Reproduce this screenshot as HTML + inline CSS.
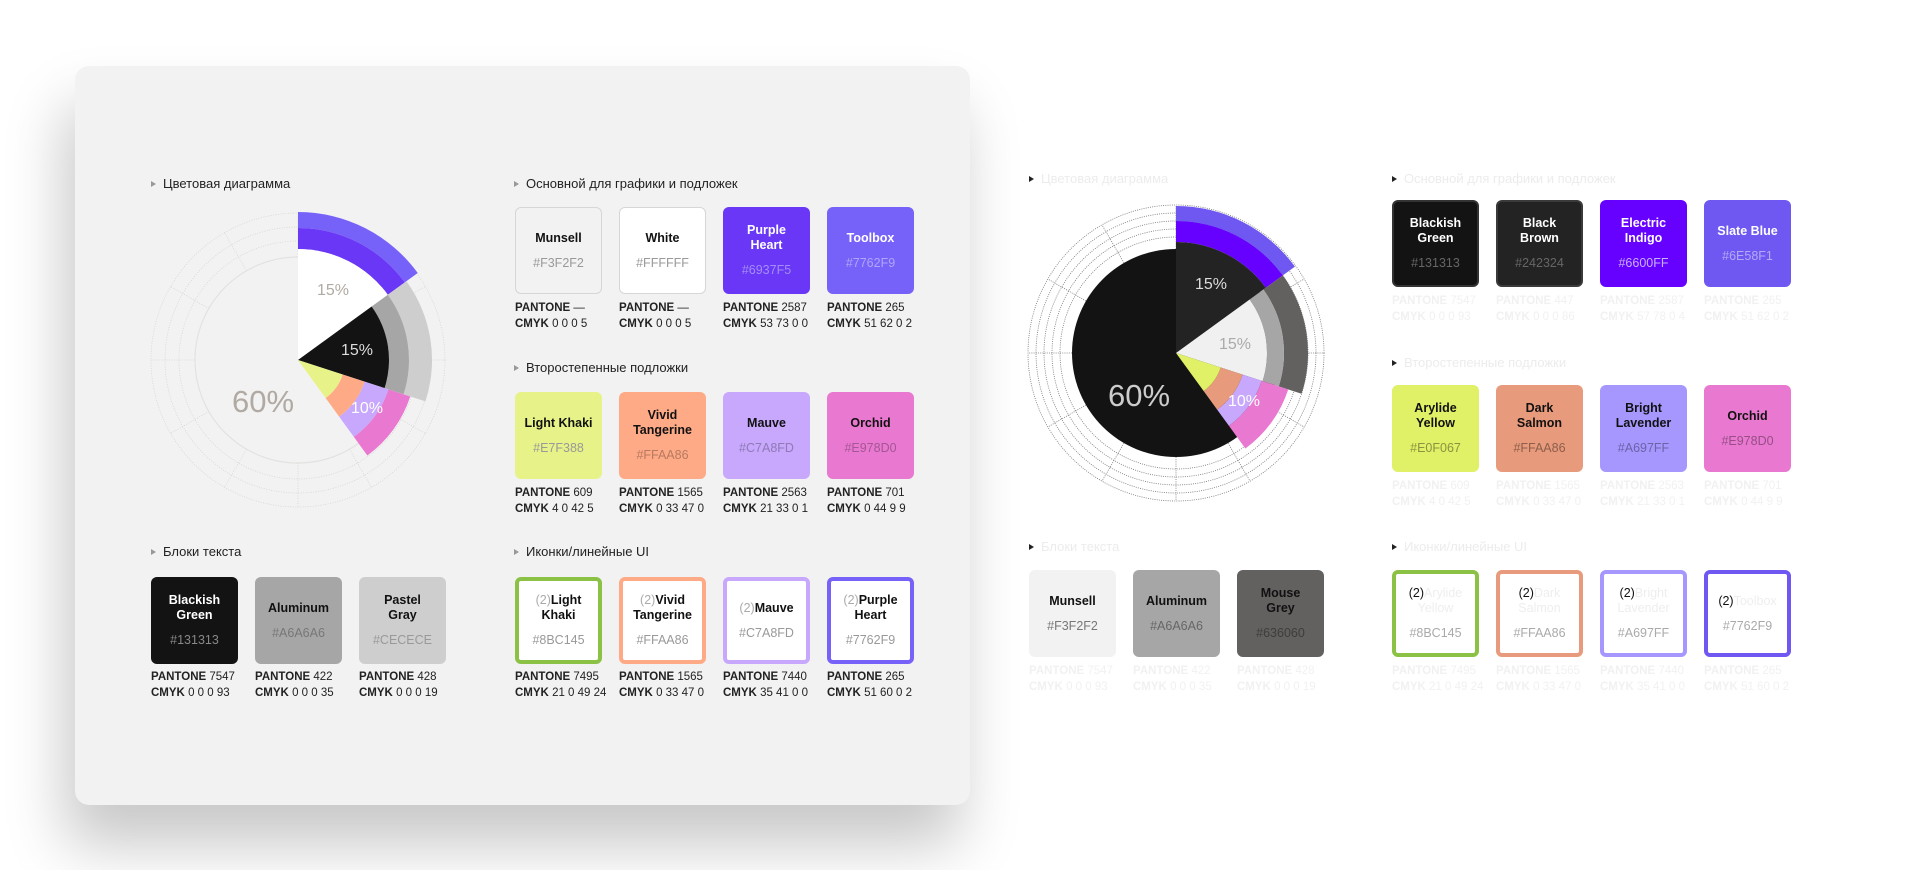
<!DOCTYPE html>
<html><head><meta charset="utf-8"><style>
*{margin:0;padding:0;box-sizing:border-box}
body{width:1920px;height:870px;background:#fff;position:relative;overflow:hidden;font-family:"Liberation Sans","Noto Sans CJK SC",sans-serif}
.card{position:absolute;left:75px;top:66px;width:895px;height:739px;background:#f2f2f2;border-radius:14px;box-shadow:-10px 40px 60px rgba(0,0,0,.22)}
.h{position:absolute;font-size:13px;color:#222;white-space:nowrap;line-height:16px}
.h:before{content:"";display:inline-block;width:0;height:0;border-left:5px solid #999;border-top:3.5px solid transparent;border-bottom:3.5px solid transparent;margin-right:7px;vertical-align:1px}
.r .h{color:#ececec}.r .h:before{border-left-color:#222}
.sw{position:absolute;width:87px;height:87px;border-radius:6px;display:flex;flex-direction:column;align-items:center;justify-content:center;text-align:center;font-size:12.5px;line-height:15px}
.sw b{font-weight:bold;display:block}
.sw i{font-style:normal;display:block;margin-top:10px;font-size:12.5px}
.pt{position:absolute;font-size:11.5px;line-height:16px;color:#222;white-space:nowrap}
.pt b{font-weight:bold}
.r .pt{color:#f1f1f1}
.ic{border:4px solid}
</style></head><body>
<div class="card"></div>
<svg width="1920" height="870" style="position:absolute;left:0;top:0" id="s"></svg>
<div id="L">
<div class="h" style="left:151px;top:176px">Цветовая диаграмма</div>
<div class="h" style="left:514px;top:176px">Основной для графики и подложек</div>
<div class="h" style="left:514px;top:360px">Второстепенные подложки</div>
<div class="h" style="left:151px;top:544px">Блоки текста</div>
<div class="h" style="left:514px;top:544px">Иконки/линейные UI</div>

<div class="sw" style="left:515px;top:207px;background:#f3f2f2;border:1.5px solid #d6d6d6;color:#111"><b>Munsell</b><i style="color:#999">#F3F2F2</i></div>
<div class="sw" style="left:619px;top:207px;background:#fff;border:1.5px solid #d6d6d6;color:#111"><b>White</b><i style="color:#999">#FFFFFF</i></div>
<div class="sw" style="left:723px;top:207px;background:#6937f5;color:#fff"><b>Purple<br>Heart</b><i style="color:#a58cf8">#6937F5</i></div>
<div class="sw" style="left:827px;top:207px;background:#7762f9;color:#fff"><b>Toolbox</b><i style="color:#b0a5fb">#7762F9</i></div>
<div class="pt" style="left:515px;top:300px"><b>PANTONE</b> —<br><b>CMYK</b> 0 0 0 5</div>
<div class="pt" style="left:619px;top:300px"><b>PANTONE</b> —<br><b>CMYK</b> 0 0 0 5</div>
<div class="pt" style="left:723px;top:300px"><b>PANTONE</b> 2587<br><b>CMYK</b> 53 73 0 0</div>
<div class="pt" style="left:827px;top:300px"><b>PANTONE</b> 265<br><b>CMYK</b> 51 62 0 2</div>

<div class="sw" style="left:515px;top:392px;background:#e7f388;color:#111"><b>Light Khaki</b><i style="color:#999">#E7F388</i></div>
<div class="sw" style="left:619px;top:392px;background:#ffaa86;color:#111"><b>Vivid<br>Tangerine</b><i style="color:#b77a60">#FFAA86</i></div>
<div class="sw" style="left:723px;top:392px;background:#c7a8fd;color:#111"><b>Mauve</b><i style="color:#8f79b6">#C7A8FD</i></div>
<div class="sw" style="left:827px;top:392px;background:#e978d0;color:#111"><b>Orchid</b><i style="color:#a55695">#E978D0</i></div>
<div class="pt" style="left:515px;top:485px"><b>PANTONE</b> 609<br><b>CMYK</b> 4 0 42 5</div>
<div class="pt" style="left:619px;top:485px"><b>PANTONE</b> 1565<br><b>CMYK</b> 0 33 47 0</div>
<div class="pt" style="left:723px;top:485px"><b>PANTONE</b> 2563<br><b>CMYK</b> 21 33 0 1</div>
<div class="pt" style="left:827px;top:485px"><b>PANTONE</b> 701<br><b>CMYK</b> 0 44 9 9</div>

<div class="sw" style="left:151px;top:577px;background:#131313;color:#fff"><b>Blackish<br>Green</b><i style="color:#888">#131313</i></div>
<div class="sw" style="left:255px;top:577px;background:#a6a6a6;color:#111"><b>Aluminum</b><i style="color:#777">#A6A6A6</i></div>
<div class="sw" style="left:359px;top:577px;background:#cecece;color:#111"><b>Pastel<br>Gray</b><i style="color:#999">#CECECE</i></div>
<div class="pt" style="left:151px;top:669px"><b>PANTONE</b> 7547<br><b>CMYK</b> 0 0 0 93</div>
<div class="pt" style="left:255px;top:669px"><b>PANTONE</b> 422<br><b>CMYK</b> 0 0 0 35</div>
<div class="pt" style="left:359px;top:669px"><b>PANTONE</b> 428<br><b>CMYK</b> 0 0 0 19</div>

<div class="sw ic" style="left:515px;top:577px;background:#fff;border-color:#8bc145;color:#111"><b><span style="font-weight:normal;color:#aaa">(2)</span>Light<br>Khaki</b><i style="color:#999">#8BC145</i></div>
<div class="sw ic" style="left:619px;top:577px;background:#fff;border-color:#ffaa86;color:#111"><b><span style="font-weight:normal;color:#aaa">(2)</span>Vivid<br>Tangerine</b><i style="color:#999">#FFAA86</i></div>
<div class="sw ic" style="left:723px;top:577px;background:#fff;border-color:#c7a8fd;color:#111"><b><span style="font-weight:normal;color:#aaa">(2)</span>Mauve</b><i style="color:#999">#C7A8FD</i></div>
<div class="sw ic" style="left:827px;top:577px;background:#fff;border-color:#7762f9;color:#111"><b><span style="font-weight:normal;color:#aaa">(2)</span>Purple<br>Heart</b><i style="color:#999">#7762F9</i></div>
<div class="pt" style="left:515px;top:669px"><b>PANTONE</b> 7495<br><b>CMYK</b> 21 0 49 24</div>
<div class="pt" style="left:619px;top:669px"><b>PANTONE</b> 1565<br><b>CMYK</b> 0 33 47 0</div>
<div class="pt" style="left:723px;top:669px"><b>PANTONE</b> 7440<br><b>CMYK</b> 35 41 0 0</div>
<div class="pt" style="left:827px;top:669px"><b>PANTONE</b> 265<br><b>CMYK</b> 51 60 0 2</div>
</div>

<div class="r">
<div class="h" style="left:1029px;top:171px">Цветовая диаграмма</div>
<div class="h" style="left:1392px;top:171px">Основной для графики и подложек</div>
<div class="h" style="left:1392px;top:355px">Второстепенные подложки</div>
<div class="h" style="left:1029px;top:539px">Блоки текста</div>
<div class="h" style="left:1392px;top:539px">Иконки/линейные UI</div>

<div class="sw" style="left:1392px;top:200px;background:#131313;border:2px solid #333;color:#fff"><b>Blackish<br>Green</b><i style="color:#666">#131313</i></div>
<div class="sw" style="left:1496px;top:200px;background:#242324;border:2px solid #3a3a3a;color:#fff"><b>Black<br>Brown</b><i style="color:#666">#242324</i></div>
<div class="sw" style="left:1600px;top:200px;background:#6600ff;color:#fff"><b>Electric<br>Indigo</b><i style="color:#c8b0ff">#6600FF</i></div>
<div class="sw" style="left:1704px;top:200px;background:#6e58f1;color:#fff"><b>Slate Blue</b><i style="color:#b5a9f8">#6E58F1</i></div>
<div class="pt" style="left:1392px;top:293px"><b>PANTONE</b> 7547<br><b>CMYK</b> 0 0 0 93</div>
<div class="pt" style="left:1496px;top:293px"><b>PANTONE</b> 447<br><b>CMYK</b> 0 0 0 86</div>
<div class="pt" style="left:1600px;top:293px"><b>PANTONE</b> 2587<br><b>CMYK</b> 57 78 0 4</div>
<div class="pt" style="left:1704px;top:293px"><b>PANTONE</b> 265<br><b>CMYK</b> 51 62 0 2</div>

<div class="sw" style="left:1392px;top:385px;background:#e0f067;color:#111"><b>Arylide<br>Yellow</b><i style="color:#8a9340">#E0F067</i></div>
<div class="sw" style="left:1496px;top:385px;background:#e89b7c;color:#111"><b>Dark<br>Salmon</b><i style="color:#8d5e4b">#FFAA86</i></div>
<div class="sw" style="left:1600px;top:385px;background:#a697ff;color:#111"><b>Bright<br>Lavender</b><i style="color:#6c62a6">#A697FF</i></div>
<div class="sw" style="left:1704px;top:385px;background:#e978d0;color:#111"><b>Orchid</b><i style="color:#974e87">#E978D0</i></div>
<div class="pt" style="left:1392px;top:478px"><b>PANTONE</b> 609<br><b>CMYK</b> 4 0 42 5</div>
<div class="pt" style="left:1496px;top:478px"><b>PANTONE</b> 1565<br><b>CMYK</b> 0 33 47 0</div>
<div class="pt" style="left:1600px;top:478px"><b>PANTONE</b> 2563<br><b>CMYK</b> 21 33 0 1</div>
<div class="pt" style="left:1704px;top:478px"><b>PANTONE</b> 701<br><b>CMYK</b> 0 44 9 9</div>

<div class="sw" style="left:1029px;top:570px;background:#f2f2f2;color:#111"><b>Munsell</b><i style="color:#777">#F3F2F2</i></div>
<div class="sw" style="left:1133px;top:570px;background:#a6a6a6;color:#111"><b>Aluminum</b><i style="color:#666">#A6A6A6</i></div>
<div class="sw" style="left:1237px;top:570px;background:#636060;color:#111"><b>Mouse<br>Grey</b><i style="color:#3e3c3c">#636060</i></div>
<div class="pt" style="left:1029px;top:663px"><b>PANTONE</b> 7547<br><b>CMYK</b> 0 0 0 93</div>
<div class="pt" style="left:1133px;top:663px"><b>PANTONE</b> 422<br><b>CMYK</b> 0 0 0 35</div>
<div class="pt" style="left:1237px;top:663px"><b>PANTONE</b> 428<br><b>CMYK</b> 0 0 0 19</div>

<div class="sw ic" style="left:1392px;top:570px;background:#fff;border-color:#8bc145;color:#111"><b style="font-weight:normal">(2)<span style="color:#eee">Arylide<br>Yellow</span></b><i style="color:#aaa">#8BC145</i></div>
<div class="sw ic" style="left:1496px;top:570px;background:#fff;border-color:#e89b7c;color:#111"><b style="font-weight:normal">(2)<span style="color:#eee">Dark<br>Salmon</span></b><i style="color:#aaa">#FFAA86</i></div>
<div class="sw ic" style="left:1600px;top:570px;background:#fff;border-color:#a697ff;color:#111"><b style="font-weight:normal">(2)<span style="color:#eee">Bright<br>Lavender</span></b><i style="color:#aaa">#A697FF</i></div>
<div class="sw ic" style="left:1704px;top:570px;background:#fff;border-color:#6e58f1;color:#111"><b style="font-weight:normal">(2)<span style="color:#eee">Toolbox</span></b><i style="color:#aaa">#7762F9</i></div>
<div class="pt" style="left:1392px;top:663px"><b>PANTONE</b> 7495<br><b>CMYK</b> 21 0 49 24</div>
<div class="pt" style="left:1496px;top:663px"><b>PANTONE</b> 1565<br><b>CMYK</b> 0 33 47 0</div>
<div class="pt" style="left:1600px;top:663px"><b>PANTONE</b> 7440<br><b>CMYK</b> 35 41 0 0</div>
<div class="pt" style="left:1704px;top:663px"><b>PANTONE</b> 265<br><b>CMYK</b> 51 60 0 2</div>
</div>

<script>
var s=document.getElementById('s'),NS='http://www.w3.org/2000/svg',out='';
function P(cx,cy,r,a){a=(a-90)*Math.PI/180;return [(cx+r*Math.cos(a)).toFixed(2),(cy+r*Math.sin(a)).toFixed(2)];}
function W(cx,cy,r0,r1,a0,a1,c){var p1=P(cx,cy,r1,a0),p2=P(cx,cy,r1,a1),d='M'+(r0?P(cx,cy,r0,a0):[cx,cy])+' L'+p1+' A'+r1+' '+r1+' 0 0 1 '+p2;
 if(r0){var p3=P(cx,cy,r0,a1),p4=P(cx,cy,r0,a0);d+=' L'+p3+' A'+r0+' '+r0+' 0 0 0 '+p4;}d+='Z';out+='<path d="'+d+'" fill="'+c+'"/>';}
function grid(cx,cy,rs,r0,col,dash){rs.forEach(function(r){out+='<circle cx="'+cx+'" cy="'+cy+'" r="'+r+'" fill="none" stroke="'+col+'" stroke-width="0.8" stroke-dasharray="'+dash+'"/>';});
 for(var a=0;a<360;a+=30){var p=P(cx,cy,r0,a),q=P(cx,cy,rs[0],a);out+='<line x1="'+p[0]+'" y1="'+p[1]+'" x2="'+q[0]+'" y2="'+q[1]+'" stroke="'+col+'" stroke-width="0.8" stroke-dasharray="'+dash+'"/>';}}
function T(x,y,t,c,sz){out+='<text x="'+x+'" y="'+y+'" fill="'+c+'" font-size="'+sz+'" font-family="Liberation Sans,sans-serif" text-anchor="middle">'+t+'</text>';}
// left
var cx=298,cy=360;
grid(cx,cy,[147,133,119],103,'#d8d5d0','1 1.5');
out+='<circle cx="'+cx+'" cy="'+cy+'" r="103" fill="none" stroke="#e3e2e0" stroke-width="1.2"/>';
W(cx,cy,132,148,0,54,'#7762f9');W(cx,cy,111,132,0,54,'#6937f5');W(cx,cy,0,111,0,54,'#fff');
W(cx,cy,111,134,54,108,'#cecece');W(cx,cy,91,111,54,108,'#a6a6a6');W(cx,cy,0,91,54,108,'#131313');
W(cx,cy,95,118,108,144,'#e978d0');W(cx,cy,70,95,108,144,'#c7a8fd');W(cx,cy,47,70,108,144,'#ffaa86');W(cx,cy,0,47,108,144,'#e7f388');
T(333,295,'15%','#b0aaa3',16);T(357,355,'15%','#ddd',16);T(367,413,'10%','#fff',16);T(263,412,'60%','#b0aaa3',31);
// right
cx=1176;cy=353;
grid(cx,cy,[148,140,132,124,116],104,'#777','1 1.2');
out+='<circle cx="'+cx+'" cy="'+cy+'" r="104" fill="#131313"/>';
W(cx,cy,132,147,0,54,'#6e58f1');W(cx,cy,111,132,0,54,'#6600ff');W(cx,cy,0,111,0,54,'#242324');
W(cx,cy,108,132,54,108,'#636060');W(cx,cy,91,108,54,108,'#a6a6a6');W(cx,cy,0,91,54,108,'#f0f0f0');
W(cx,cy,90,118,108,144,'#e978d0');W(cx,cy,70,90,108,144,'#c7a8fd');W(cx,cy,47,70,108,144,'#e89b7c');W(cx,cy,0,47,108,144,'#e0f067');
T(1211,289,'15%','#ddd',16);T(1235,349,'15%','#aaa',16);T(1244,406,'10%','#fff',16);T(1139,406,'60%','#ccc',31);
s.innerHTML=out;
</script>
</body></html>
